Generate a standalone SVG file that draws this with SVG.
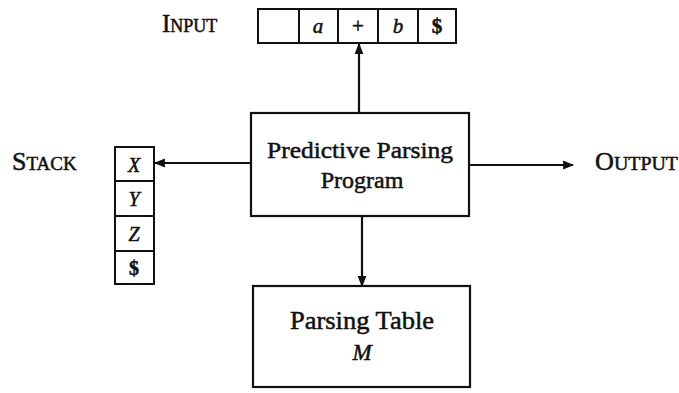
<svg xmlns="http://www.w3.org/2000/svg" width="679" height="393" viewBox="0 0 679 393">
<style>
.box{fill:#fff;stroke:#111;stroke-width:2.2}
.cell{fill:#fff;stroke:#111;stroke-width:2}
.t{font-family:"Liberation Serif","Times New Roman",serif;fill:#111;stroke:#111;stroke-width:0.5;text-anchor:middle}
.lbl{font-family:"Liberation Serif","Times New Roman",serif;fill:#111;stroke:#111;stroke-width:0.5}
.it{font-style:italic}
.con{stroke:#111;stroke-width:2.2;fill:none;marker-end:url(#ah)}
</style>
<defs>
<marker id="ah" viewBox="0 0 10 10" refX="9" refY="5" markerWidth="5" markerHeight="5" orient="auto" markerUnits="strokeWidth">
<path d="M0,1 L10,5 L0,9 Z" fill="#111"/>
</marker>
</defs>
<rect width="679" height="393" fill="#fff"/>
<g id="connectors">
<line class="con" x1="359" y1="113" x2="359" y2="44"/>
<line class="con" x1="251" y1="163" x2="155" y2="163"/>
<line class="con" x1="469" y1="165" x2="573" y2="165"/>
<line class="con" x1="362" y1="216" x2="362" y2="286"/>
</g>
<g id="input-label">
<text class="lbl" x="162" y="32"><tspan font-size="25">I</tspan><tspan font-size="18">NPUT</tspan></text>
</g>
<g id="input-tape">
<rect class="cell" x="258" y="9" width="41" height="34"/>
<rect class="cell" x="299" y="9" width="39" height="34"/>
<rect class="cell" x="338" y="9" width="40" height="34"/>
<rect class="cell" x="378" y="9" width="40" height="34"/>
<rect class="cell" x="418" y="9" width="38" height="34"/>
<text class="t it" x="318" y="33" font-size="21">a</text>
<text class="t" x="358" y="33" font-size="21">+</text>
<text class="t it" x="398" y="33" font-size="21">b</text>
<text class="t" x="437" y="33" font-size="21" font-weight="bold">$</text>
</g>
<g id="stack-label">
<text class="lbl" x="12" y="170"><tspan font-size="26">S</tspan><tspan font-size="19">TACK</tspan></text>
</g>
<g id="stack">
<rect class="cell" x="115" y="147" width="39" height="34"/>
<rect class="cell" x="115" y="181" width="39" height="35"/>
<rect class="cell" x="115" y="216" width="39" height="35"/>
<rect class="cell" x="115" y="251" width="39" height="33"/>
<text class="t it" x="134" y="172" font-size="20">X</text>
<text class="t it" x="134" y="206" font-size="20">Y</text>
<text class="t it" x="134" y="241" font-size="20">Z</text>
<text class="t" x="134" y="275" font-size="20" font-weight="bold">$</text>
</g>
<g id="program">
<rect class="box" x="251" y="113" width="218" height="103"/>
<text class="t" x="360" y="158" font-size="24" textLength="186" lengthAdjust="spacingAndGlyphs">Predictive Parsing</text>
<text class="t" x="362" y="188" font-size="24">Program</text>
</g>
<g id="output-label">
<text class="lbl" x="595" y="170" textLength="83" lengthAdjust="spacingAndGlyphs"><tspan font-size="25">O</tspan><tspan font-size="19">UTPUT</tspan></text>
</g>
<g id="table">
<rect class="box" x="253" y="286" width="217" height="101"/>
<text class="t" x="362" y="329" font-size="25" textLength="144" lengthAdjust="spacingAndGlyphs">Parsing Table</text>
<text class="t it" x="362" y="360" font-size="23">M</text>
</g>
</svg>
